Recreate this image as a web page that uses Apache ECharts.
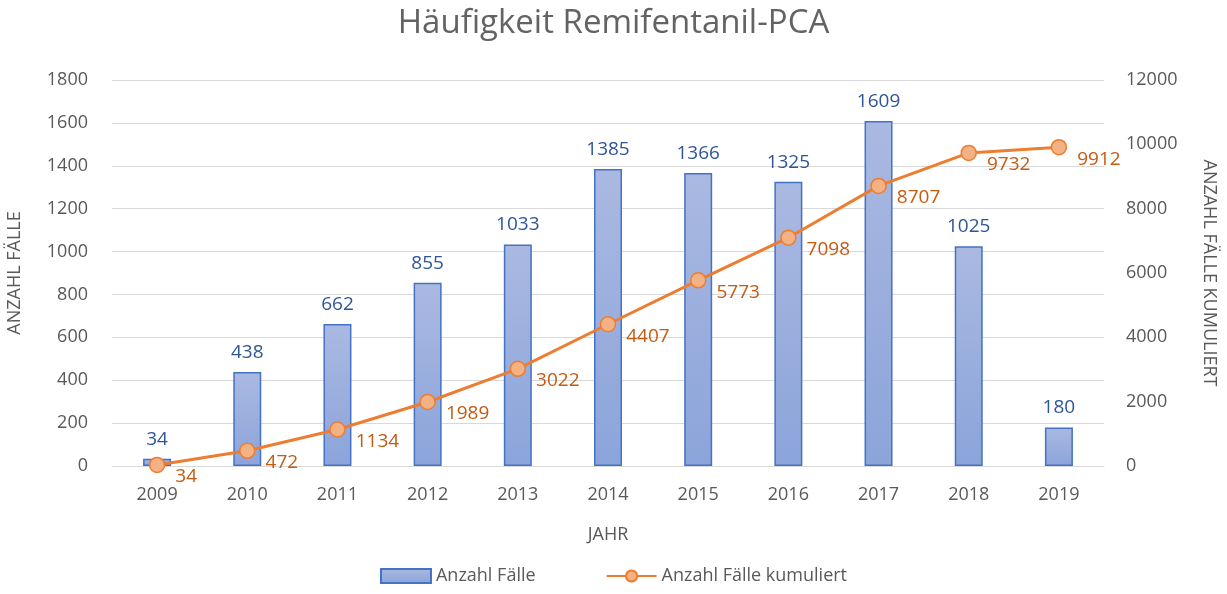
<!DOCTYPE html>
<html>
<head>
<meta charset="utf-8">
<script src="https://cdn.jsdelivr.net/npm/echarts@6/dist/echarts.min.js"></script>
<style>
  html, body { margin: 0; padding: 0; background: #fff; }
  #chart { width: 1227px; height: 594px; }
</style>
</head>
<body>
<div id="chart"></div>
<script>
const years = ["2009", "2010", "2011", "2012", "2013", "2014", "2015", "2016", "2017", "2018", "2019"];
const faelle = [34, 438, 662, 855, 1033, 1385, 1366, 1325, 1609, 1025, 180];
const kumuliert = [34, 472, 1134, 1989, 3022, 4407, 5773, 7098, 8707, 9732, 9912];

const font = "'Open Sans', 'Noto Sans', sans-serif";
const grey = "#595959";

const chart = echarts.init(document.getElementById("chart"));

chart.setOption({
  backgroundColor: "#fff",
  textStyle: { fontFamily: font },
  title: {
    text: "Häufigkeit Remifentanil-PCA",
    left: "center",
    top: 2,
    textStyle: { color: "#636363", fontSize: 33, fontWeight: "normal", fontFamily: font },
  },
  grid: { left: 112, right: 123, top: 80, bottom: 128, outerBoundsMode: "none" },
  legend: {
    bottom: 4,
    left: "center",
    itemGap: 70,
    itemWidth: 50,
    itemHeight: 14,
    textStyle: { color: grey, fontSize: 18 },
    data: [
      { name: "Anzahl Fälle", icon: "rect" },
      { name: "Anzahl Fälle kumuliert" },
    ],
  },
  xAxis: {
    type: "category",
    data: years,
    name: "JAHR",
    nameLocation: "middle",
    nameGap: 60,
    nameTextStyle: { color: grey, fontSize: 18 },
    axisLine: { lineStyle: { color: "#d9d9d9" } },
    axisTick: { show: false },
    axisLabel: { color: grey, fontSize: 18, margin: 20 },
  },
  yAxis: [
    {
      type: "value",
      min: 0,
      max: 1800,
      interval: 200,
      name: "ANZAHL FÄLLE",
      nameLocation: "middle",
      nameGap: 88,
      nameTextStyle: { color: grey, fontSize: 18 },
      axisLine: { show: false },
      axisTick: { show: false },
      axisLabel: { color: grey, fontSize: 18, margin: 24, formatter: (v) => String(v) },
      splitLine: { lineStyle: { color: "#d9d9d9", width: 1 } },
    },
    {
      type: "value",
      min: 0,
      max: 12000,
      interval: 2000,
      name: "ANZAHL FÄLLE KUMULIERT",
      nameLocation: "middle",
      nameGap: 96,
      nameRotate: -90,
      nameTextStyle: { color: grey, fontSize: 18 },
      axisLine: { show: false },
      axisTick: { show: false },
      axisLabel: { color: grey, fontSize: 18, margin: 22, formatter: (v) => String(v) },
      splitLine: { show: false },
    },
  ],
  series: [
    {
      name: "Anzahl Fälle",
      type: "bar",
      data: faelle,
      barWidth: 28,
      itemStyle: {
        color: new echarts.graphic.LinearGradient(0, 0, 0, 1, [
          { offset: 0, color: "#aab9e1" },
          { offset: 1, color: "#8ba4da" },
        ]),
        borderColor: "#4472c4",
        borderWidth: 1.5,
      },
      label: {
        show: true,
        position: "top",
        distance: 10,
        color: "#2f5597",
        fontSize: 19,
      },
      z: 2,
    },
    {
      name: "Anzahl Fälle kumuliert",
      type: "line",
      yAxisIndex: 1,
      data: kumuliert,
      symbol: "circle",
      symbolSize: 15,
      itemStyle: { color: "#f4b183", borderColor: "#ed7d31", borderWidth: 1.5 },
      lineStyle: { color: "#ed7d31", width: 3 },
      label: {
        show: true,
        position: "right",
        distance: 10,
        offset: [0, 12],
        color: "#c55a11",
        fontSize: 19,
      },
      z: 3,
    },
  ],
});
</script>
</body>
</html>
